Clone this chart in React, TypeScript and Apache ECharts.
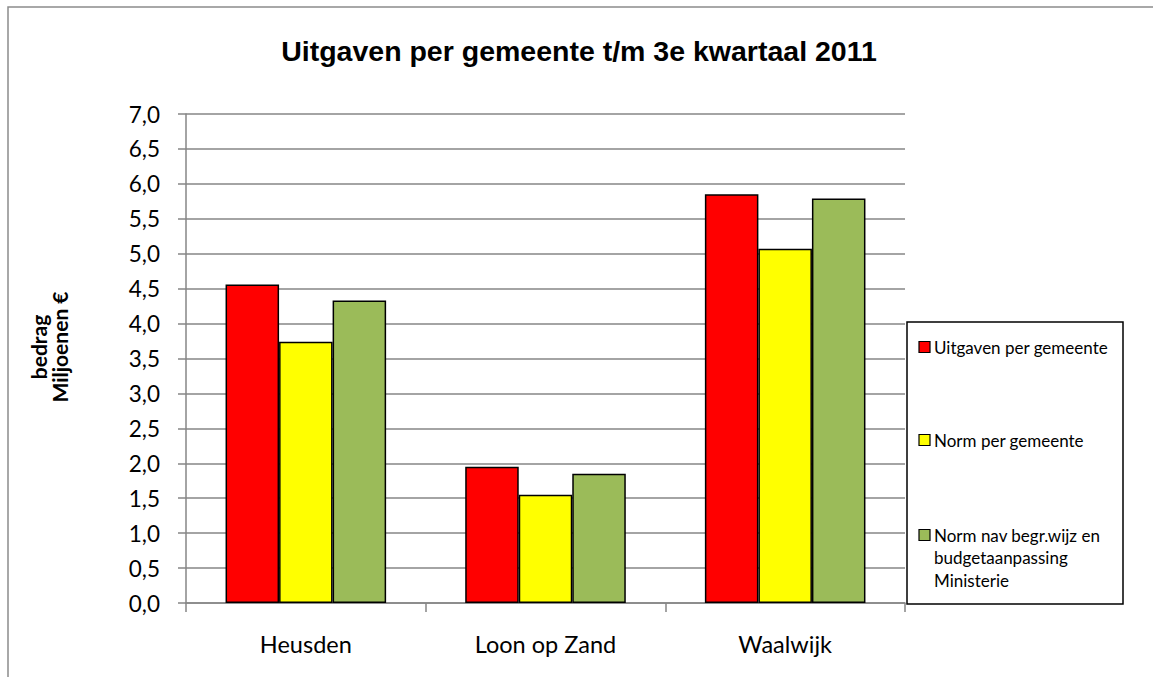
import React, { useEffect, useRef } from "react";
import * as echarts from "echarts";

const categories = ["Heusden", "Loon op Zand", "Waalwijk"];
const seriesNames = [
  "Uitgaven per gemeente",
  "Norm per gemeente",
  "Norm nav begr.wijz en budgetaanpassing Ministerie",
];
const legendLabels = [
  "Uitgaven per gemeente",
  "Norm per gemeente",
  "Norm nav begr.wijz en\nbudgetaanpassing\nMinisterie",
];
const uitgaven = [4.56, 1.95, 5.85];
const normPerGemeente = [3.74, 1.55, 5.07];
const normNav = [4.33, 1.85, 5.79];
const seriesValues = [uitgaven, normPerGemeente, normNav];
const colors = ["#FF0000", "#FFFF00", "#9BBB59"];
const title = "Uitgaven per gemeente t/m 3e kwartaal 2011";
const yAxisTitle = "bedrag\nMiljoenen €";

export default function App() {
  const ref = useRef<HTMLDivElement>(null);
  useEffect(() => {
    if (!ref.current) return;
    const chart = echarts.init(ref.current, null, { renderer: "svg" });
    const legendTops = [347, 440, 535];
    const legendGraphics: any[] = [];
    seriesNames.forEach((_, i) => {
      legendGraphics.push({
        type: "rect",
        shape: { x: 919, y: legendTops[i] - 5.5, width: 11, height: 11 },
        style: { fill: colors[i], stroke: "#000", lineWidth: 1.2 },
      });
      legendGraphics.push({
        type: "text",
        x: 934,
        y: legendTops[i] - 11,
        style: {
          text: legendLabels[i],
          font: "17px Lato",
          fill: "#000",
          textAlign: "left",
          textVerticalAlign: "top",
          lineHeight: 22.5,
        },
      });
    });
    chart.setOption({
      animation: false,
      backgroundColor: "#fff",
      title: {
        text: title,
        left: 574,
        top: 31,
        textAlign: "center",
        textStyle: {
          fontFamily: "Liberation Sans",
          fontWeight: "bold",
          fontSize: 28.5,
          color: "#000",
        },
      },
      grid: { left: 186, right: 248, top: 114, bottom: 74 },
      xAxis: {
        type: "category",
        data: categories,
        axisLine: { lineStyle: { color: "#868686", width: 1.5 } },
        axisTick: { show: true, length: 9, lineStyle: { color: "#868686", width: 1.5 } },
        axisLabel: { fontFamily: "Lato", fontSize: 23.5, color: "#000", margin: 29 },
      },
      yAxis: {
        type: "value",
        min: 0,
        max: 7,
        interval: 0.5,
        axisLine: { show: true, lineStyle: { color: "#868686", width: 1.5 } },
        axisTick: { show: true, length: 8, lineStyle: { color: "#868686", width: 1.5 } },
        splitLine: { lineStyle: { color: "#868686", width: 1.5 } },
        axisLabel: {
          fontFamily: "Lato",
          fontSize: 22.5,
          color: "#000",
          margin: 26,
          formatter: (v: number) => v.toFixed(1).replace(".", ","),
        },
      },
      series: seriesNames.map((name, i) => ({
        name,
        type: "bar",
        data: seriesValues[i],
        barGap: "0%",
        barCategoryGap: "33%",
        itemStyle: { color: colors[i], borderColor: "#000", borderWidth: 1.5 },
      })),
      graphic: [
        {
          type: "rect",
          shape: { x: 8, y: 7, width: 1400, height: 900 },
          style: { fill: "none", stroke: "#8c8c8c", lineWidth: 1.5 },
          silent: true,
        },
        {
          type: "rect",
          shape: { x: 907, y: 322, width: 216, height: 282 },
          style: { fill: "#fff", stroke: "#000", lineWidth: 1.5 },
        },
        ...legendGraphics,
        {
          type: "text",
          x: 49,
          y: 347,
          rotation: Math.PI / 2,
          style: {
            text: yAxisTitle,
            font: "bold 21px Lato",
            fill: "#000",
            textAlign: "center",
            textVerticalAlign: "middle",
            lineHeight: 21,
          },
        },
      ],
    });
    return () => chart.dispose();
  }, []);
  return (
    <div
      ref={ref}
      style={{ position: "absolute", left: 0, top: 0, width: 1153, height: 677 }}
    />
  );
}
